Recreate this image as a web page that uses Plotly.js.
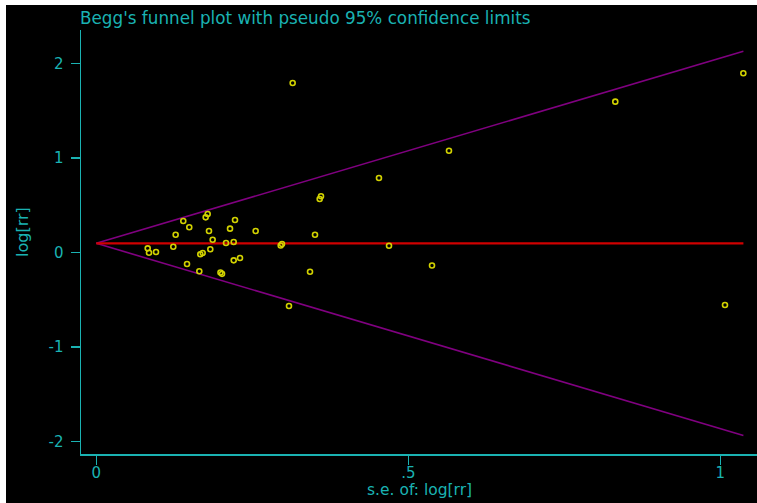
<!DOCTYPE html>
<html>
<head>
<meta charset="utf-8">
<script src="https://cdn.plot.ly/plotly-3.0.1.min.js"></script>
<style>
  html, body { margin: 0; padding: 0; background: #ffffff; width: 757px; height: 503px; overflow: hidden; }
  #chart { position: absolute; left: 6px; top: 5px; width: 751px; height: 498px; }
</style>
</head>
<body>
<div id="chart"></div>
<script>
// Study standard errors of log[rr]
const seLogRR = [
  0.0824, 0.0845, 0.0957, 0.1234, 0.1272, 0.1394, 0.1454, 0.1490, 0.1651, 0.1667,
  0.1705, 0.1753, 0.1785, 0.1806, 0.1827, 0.1865, 0.1990, 0.2015, 0.2079, 0.2143,
  0.2202, 0.2202, 0.2223, 0.2303, 0.2554, 0.2955, 0.2976, 0.3088, 0.3147, 0.3425,
  0.3505, 0.3580, 0.3601, 0.4530, 0.4691, 0.5380, 0.5652, 0.8317, 1.0075, 1.0369
];
// Study log[rr]
const logRR = [
  0.042, -0.004, 0.003, 0.059, 0.186, 0.331, -0.124, 0.265, -0.201, -0.021,
  -0.007, 0.370, 0.405, 0.225, 0.032, 0.133, -0.214, -0.228, 0.098, 0.250,
  0.109, -0.085, 0.342, -0.060, 0.225, 0.072, 0.088, -0.568, 1.792, -0.205,
  0.186, 0.564, 0.593, 0.786, 0.070, -0.140, 1.075, 1.594, -0.558, 1.894
];
// Pooled estimate and funnel extent
const pooledTheta = 0.095;
const maxSE = 1.037;
const zCrit = 1.96;

const xTickVals = [0, 0.5, 1];
const xTickText = ["0", ".5", "1"];
const yTickVals = [-2, -1, 0, 1, 2];
const yTickText = ["-2", "-1", "0", "1", "2"];

const cyan = "#1ab2b2";
const fontFam = "DejaVu Sans, sans-serif";

const funnelX = [0, maxSE];
const upper = funnelX.map(s => pooledTheta + zCrit * s);
const lower = funnelX.map(s => pooledTheta - zCrit * s);
const center = funnelX.map(() => pooledTheta);

const traces = [
  { x: funnelX, y: upper, mode: "lines", line: { color: "#800080", width: 1.6 }, hoverinfo: "skip" },
  { x: funnelX, y: lower, mode: "lines", line: { color: "#800080", width: 1.6 }, hoverinfo: "skip" },
  { x: funnelX, y: center, mode: "lines", line: { color: "#d00000", width: 2.2 }, hoverinfo: "skip" },
  { x: seLogRR, y: logRR, mode: "markers",
    marker: { symbol: "circle-open", size: 5, color: "#d2d200", line: { color: "#d2d200", width: 1.6 } } }
];

const layout = {
  width: 751, height: 498,
  paper_bgcolor: "#000000", plot_bgcolor: "#000000",
  margin: { l: 75, r: 0, t: 25, b: 49, pad: 0 },
  showlegend: false,
  font: { family: fontFam, size: 14, color: cyan },
  xaxis: {
    range: [-0.0245, 1.0588], showgrid: false, zeroline: false,
    showline: true, linecolor: cyan, linewidth: 1.5,
    ticks: "outside", ticklen: 9, tickwidth: 1.5, tickcolor: cyan,
    tickvals: xTickVals, ticktext: xTickText, ticklabelstandoff: -5,
    tickfont: { family: fontFam, size: 15, color: cyan }
  },
  yaxis: {
    range: [-2.134, 2.352], showgrid: false, zeroline: false,
    showline: true, linecolor: cyan, linewidth: 1.5,
    ticks: "outside", ticklen: 9, tickwidth: 1.5, tickcolor: cyan,
    tickvals: yTickVals, ticktext: yTickText, ticklabelstandoff: 4,
    tickfont: { family: fontFam, size: 15, color: cyan }
  },
  annotations: [
    { text: "Begg's funnel plot with pseudo 95% confidence limits", xref: "paper", yref: "paper",
      x: 0, y: 1, xanchor: "left", yanchor: "middle", yshift: 12, xshift: -3, showarrow: false,
      font: { family: fontFam, size: 16.8, color: cyan } },
    { text: "s.e. of: log[rr]", xref: "paper", yref: "paper",
      x: 0.5003, y: 0, xanchor: "center", yanchor: "middle", yshift: -36, showarrow: false,
      font: { family: fontFam, size: 15.5, color: cyan } },
    { text: "log[rr]", xref: "paper", yref: "paper", textangle: -90,
      x: 0, y: 0.5, xanchor: "center", yanchor: "middle", xshift: -59, yshift: 10, showarrow: false,
      font: { family: fontFam, size: 16, color: cyan } }
  ]
};

Plotly.newPlot("chart", traces, layout, { displayModeBar: false, staticPlot: true });
</script>
</body>
</html>
